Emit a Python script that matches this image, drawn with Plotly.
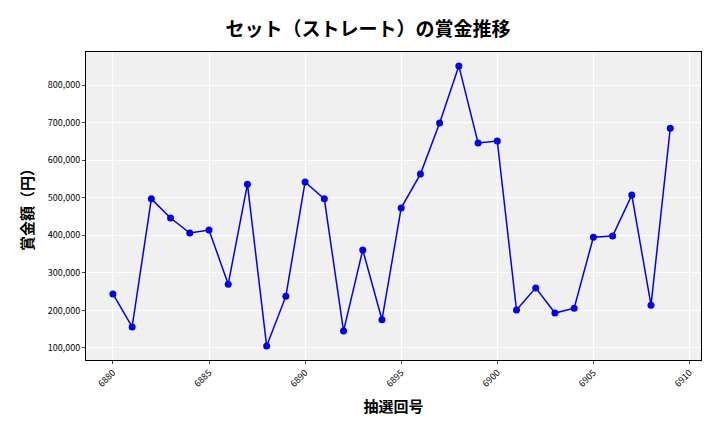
import plotly.graph_objects as go

draws = list(range(6880, 6910))
prizes = [244000,156000,497000,446000,406000,414000,270000,536000,105000,238000,
          542000,497000,145000,361000,175000,473000,563000,699000,851000,646000,
          651000,201000,260000,193000,206000,395000,398000,507000,214000,685000]

fig = go.Figure(go.Scatter(x=draws, y=prizes, mode="lines+markers",
    line=dict(color="#0000ee", width=1.5), marker=dict(color="#0000ee", size=7)))
font = "Noto Sans CJK JP"
fig.update_layout(
    width=720, height=432, margin=dict(l=78, r=27, t=44, b=80, autoexpand=False),
    paper_bgcolor="white", plot_bgcolor="#f0f0f0", showlegend=False,
    font=dict(family=font, color="black"),
    title=dict(text="<b>セット（ストレート）の賞金推移</b>", x=0.5, xanchor="center", y=0.965,
               yanchor="top", font=dict(size=19, family=font)),
    xaxis=dict(title=dict(text="<b>抽選回号</b>", font=dict(size=15), standoff=12), range=[6878.6, 6910.6],
               tickvals=list(range(6880, 6911, 5)), tickangle=-45, tickfont=dict(size=9),
               gridcolor="white", showline=True, linecolor="black", mirror=True,
               ticks="outside", ticklen=3, zeroline=False, automargin=False),
    yaxis=dict(title=dict(text="<b>賞金額（円）</b>", font=dict(size=15), standoff=10), range=[68000, 888000],
               tickvals=list(range(100000, 800001, 100000)), tickformat=",", tickfont=dict(size=9),
               gridcolor="white", showline=True, linecolor="black", mirror=True,
               ticks="outside", ticklen=3, zeroline=False, automargin=False),
)
fig.write_html("out.html")
